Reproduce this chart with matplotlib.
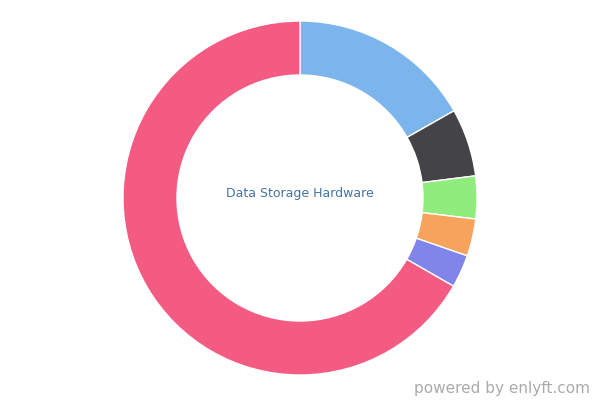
import matplotlib
matplotlib.use("Agg")
import matplotlib.pyplot as plt

labels = ["Blue", "Dark", "Green", "Orange", "Purple", "Pink"]
shares = [16.8, 6.2, 3.9, 3.4, 3.0, 66.7]
colors = ["#7cb5ec", "#434348", "#90ed7d", "#f7a35c", "#8085e9", "#f45b83"]
center_label = "Data Storage Hardware"

fig = plt.figure(figsize=(6, 4), dpi=100)
ax = fig.add_axes([0, 0, 1, 1])

# pixel-like coordinates so the ring sits where it does in the reference
ax.pie(shares, colors=colors, startangle=90, counterclock=False,
       radius=177, center=(300, 202),
       wedgeprops=dict(width=54, edgecolor="white", linewidth=1))

ax.text(300, 207, center_label, ha="center", va="center",
        fontsize=9, color="#4572a7")
ax.text(590, 11, "powered by enlyft.com", ha="right", va="center",
        fontsize=11, color="#aaaaaa")

ax.set_xlim(0, 600)
ax.set_ylim(0, 400)
ax.set_aspect("equal")
ax.axis("off")

plt.savefig("out.png", dpi=100)
